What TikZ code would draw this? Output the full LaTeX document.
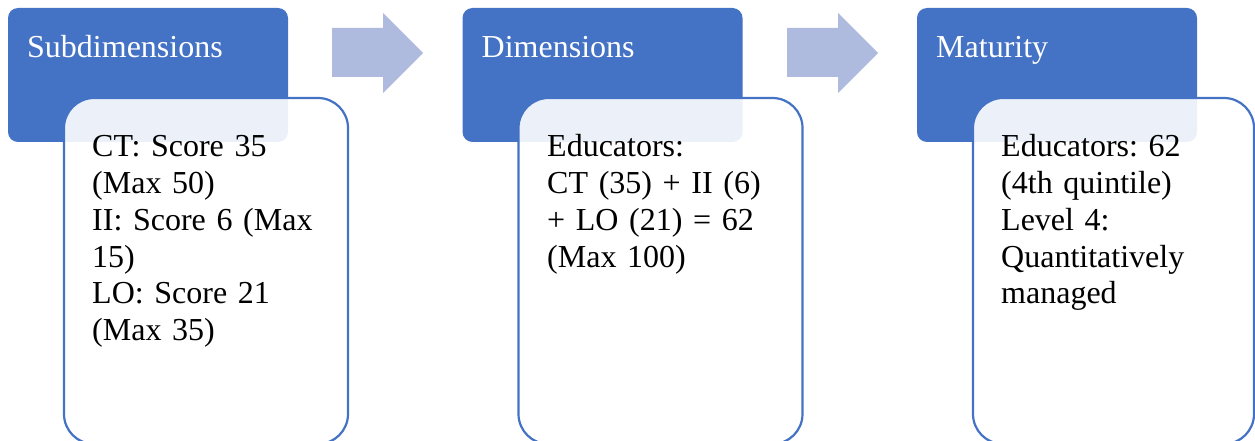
\documentclass[tikz,border=0pt]{standalone}
\usepackage{fontspec}
\setmainfont{Liberation Serif}
\definecolor{hblue}{HTML}{4472C4}
\definecolor{ablue}{RGB}{174,186,222}
\begin{document}
\frenchspacing
\begin{tikzpicture}[x=1pt,y=-1pt,
  headbox/.style={fill=hblue, draw=none, rounded corners=10pt, minimum width=280pt, minimum height=134pt, anchor=north west, inner sep=0pt, outer sep=0pt},
  bodybox/.style={draw=hblue, line width=2.2pt, fill=white, fill opacity=0.9, rounded corners=30pt, minimum width=284pt, minimum height=346pt, anchor=north west, inner sep=0pt, outer sep=0pt},
  flowarrow/.style={fill=ablue, draw=none},
  headtext/.style={anchor=base west, inner sep=0pt, text=white, font=\fontsize{32}{36.7}\selectfont\frenchspacing},
  bodytext/.style={anchor=base west, inner sep=0pt, align=left, text width=250pt, font=\fontsize{32}{36.7}\selectfont\frenchspacing}
]
\useasboundingbox (0,0) rectangle (1255,441);
% group 1
\node[headbox] (h1) at (8,8) {};
\node[bodybox] (b1) at (64,98) {};
\node[headtext] (t1) at (27,58) {Subdimensions};
\node[bodytext] (x1) at (92,157) {CT: Score 35\\(Max 50)\\II: Score 6 (Max\\15)\\LO: Score 21\\(Max 35)};
% arrow 1
\fill[flowarrow] (332,28) -- (383,28) -- (383,13) -- (423,53) -- (383,93) -- (383,77) -- (332,77) -- cycle;
% group 2
\node[headbox] (h2) at (462.5,8) {};
\node[bodybox] (b2) at (518.5,98) {};
\node[headtext] (t2) at (481.5,58) {Dimensions};
\node[bodytext] (x2) at (547,157) {Educators:\\CT (35) + II (6)\\+ LO (21) = 62\\(Max 100)};
% arrow 2
\fill[flowarrow] (787,28) -- (838,28) -- (838,13) -- (878,53) -- (838,93) -- (838,77) -- (787,77) -- cycle;
% group 3
\node[headbox] (h3) at (917,8) {};
\node[bodybox, minimum width=281pt] (b3) at (973,98) {};
\node[headtext] (t3) at (936,58) {Maturity};
\node[bodytext] (x3) at (1001,157) {Educators: 62\\(4th quintile)\\Level 4:\\Quantitatively\\managed};
\end{tikzpicture}
\end{document}
